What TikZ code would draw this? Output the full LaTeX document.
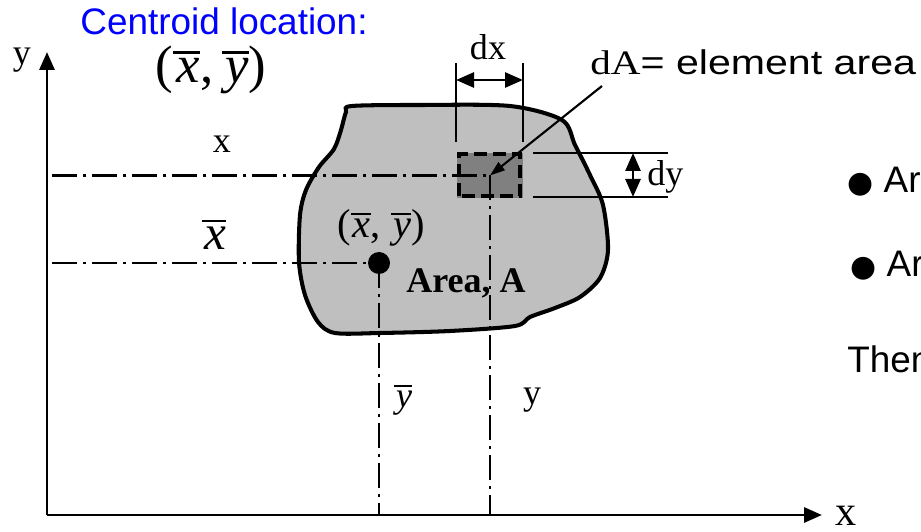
\documentclass[tikz,border=0pt]{standalone}
\usepackage{fontspec}
\usepackage{graphicx}
\setmainfont{Liberation Serif}
\setsansfont{Liberation Sans}
\newfontfamily\symfont{DejaVu Sans}
\usetikzlibrary{arrows.meta}
\definecolor{areagray}{gray}{0.75}
\definecolor{elemgray}{gray}{0.5}
\definecolor{cblue}{RGB}{0,0,255}
\newcommand{\barit}[1]{\leavevmode\vbox{\hrule height 0.05em\kern 0.1em\hbox{\kern0.06em\textit{#1}}}}
\newcommand{\bul}{{\symfont\fontsize{17}{17}\selectfont ●}}
\newcommand{\fs}[1]{\fontsize{#1}{#1}\selectfont}

\begin{document}
\begin{tikzpicture}[>={Triangle[length=0.36cm, width=0.3cm]},
    lbl/.style={inner sep=0pt, font=\fs{20.5}},
    dashdot/.style={line width=1.4pt, dash pattern=on 0.5cm off 0.12cm on 0.06cm off 0.12cm},
    dimline/.style={line width=1.1pt},
    elemborder/.style={line width=2.3pt, dash pattern=on 0.26cm off 0.12cm}]
    \useasboundingbox (0,0) rectangle (18.42,10.62);
    \clip (0,0) rectangle (18.42,10.62);

    % Vùng diện tích A
    \draw[fill=areagray, line width=2.3pt] plot[smooth cycle, tension=0.5] coordinates {
        (7.04,8.50) (8.40,8.52) (10.20,8.50) (11.24,8.22) (11.50,7.72) (11.80,7.12)
        (12.06,6.52) (12.16,5.62) (12.00,5.06) (11.60,4.68) (11.10,4.46) (10.60,4.28)
        (10.30,4.10) (9.00,4.00) (7.60,3.96) (6.70,3.96) (6.36,4.18) (6.10,4.72)
        (5.98,5.38) (6.00,6.32) (6.12,6.82) (6.38,7.28) (6.68,7.64) (6.82,8.02) (6.92,8.38)};

    % Phần tử dA
    \fill[elemgray] (9.14,6.66) rectangle (10.46,7.56);
    \draw[elemborder] (9.18,6.70) rectangle (10.40,7.54);
    \coordinate (E) at (9.80,7.11);

    % Trục tọa độ
    \coordinate (O) at (0.94,0.32);
    \coordinate (ytip) at (0.94,9.58);
    \coordinate (xtip) at (16.44,0.32);
    \draw[->, line width=1.7pt] (O) -- (ytip);
    \draw[->, line width=1.7pt] (O) -- (xtip);
    \node[lbl] (ylbl) at (0.44,9.42) {y};
    \node[inner sep=0pt, font=\fs{24}] (xlbl) at (16.92,0.30) {x};

    % Trọng tâm
    \coordinate (C) at (7.58,5.36);
    \coordinate (hx) at (1.04,5.36);
    \coordinate (hy) at (1.04,7.11);
    \draw[dashdot] (hy) -- (E);
    \draw[dashdot] (E) -- (E |- O);
    \draw[dashdot] (hx) -- (C);
    \draw[dashdot] (C) -- (C |- O);
    \fill (C) circle (0.22);

    % Nhãn
    \node[anchor=base, inner sep=0pt, text=cblue, font=\sffamily\fs{21}] (title) at (4.48,9.92) {Centroid location:};
    \node[anchor=base, inner sep=0pt, font=\fs{30}] (ctop) at (4.22,8.96) {(\barit{x},\,\barit{y})};
    \node[anchor=base, lbl] (xdist) at (4.44,7.56) {x};
    \node[anchor=base, inner sep=0pt, font=\fs{28}] (xbar) at (4.28,5.62) {\barit{x}};
    \node[anchor=base, inner sep=0pt, font=\fs{23}] (cmid) at (7.62,5.86) {(\barit{x}, \barit{y})};
    \node[anchor=base, lbl, font=\fs{20.5}\bfseries] (area) at (9.32,4.76) {Area, A};
    \node[lbl] (ybar) at (8.06,2.62) {\barit{y}};
    \node[lbl] (ydist) at (10.64,2.62) {y};

    % Kích thước dx
    \coordinate (dxL) at (9.12,9.36);
    \coordinate (dxR) at (10.46,9.36);
    \draw[dimline] (dxL) -- (9.12,7.78);
    \draw[dimline] (dxR) -- (10.46,7.78);
    \draw[<->, line width=1.5pt] (9.12,9.02) -- (10.46,9.02);
    \node[anchor=base, lbl] (dxlbl) at (9.76,9.42) {dx};

    % Kích thước dy
    \coordinate (dyT) at (13.36,7.56);
    \coordinate (dyB) at (13.36,6.68);
    \draw[dimline] (10.66,7.56) -- (dyT);
    \draw[dimline] (10.66,6.68) -- (dyB);
    \draw[<->, line width=1.5pt] (12.66,7.56) -- (12.66,6.68);
    \node[anchor=base west, lbl] (dylbl) at (12.94,6.90) {dy};

    % Chú thích dA
    \node[anchor=base west, inner sep=0pt] (dA) at (11.80,9.12)
        {\scalebox{1.2}[1]{\fs{19.5}dA\sffamily= element area}};
    \coordinate (lead) at (12.04,8.90);
    \draw[-{Triangle[length=0.3cm, width=0.2cm]}, line width=1.2pt] (lead) -- (E);

    % Văn bản bên phải
    \node[anchor=base west, inner sep=0pt, font=\sffamily\fs{21}] (b1) at (16.94,6.76) {\bul\ Area};
    \node[anchor=base west, inner sep=0pt, font=\sffamily\fs{21}] (b2) at (17.00,5.08) {\bul\ Area};
    \node[anchor=base west, inner sep=0pt, font=\sffamily\fs{21}] (then) at (16.94,3.18) {Then};
\end{tikzpicture}
\end{document}
